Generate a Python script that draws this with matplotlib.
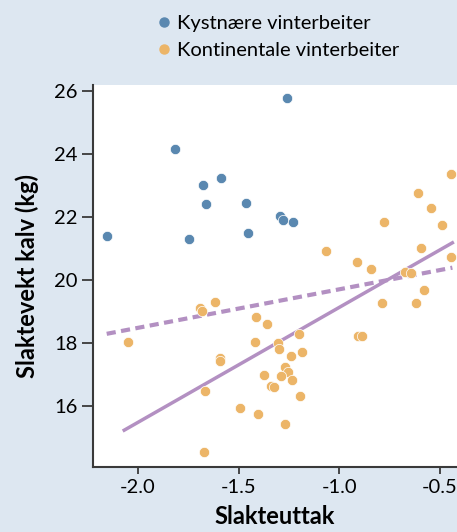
import numpy as np
import matplotlib.pyplot as plt
from matplotlib.lines import Line2D

plt.rcParams['font.family'] = ['Lato', 'DejaVu Sans']
plt.rcParams['axes.unicode_minus'] = False

# Kystnære vinterbeiter (blue)
kyst_x = [-2.153, -1.818, -1.677, -1.586, -1.662, -1.744, -1.464, -1.452,
          -1.294, -1.281, -1.231, -1.262]
kyst_y = [21.38, 24.14, 23.00, 23.24, 22.41, 21.30, 22.44, 21.48,
          22.03, 21.90, 21.82, 25.78]

# Kontinentale vinterbeiter (orange)
kont_x = [-2.048, -1.693, -1.680, -1.617, -1.416, -1.358, -1.421, -1.593,
          -1.593, -1.665, -1.495, -1.406, -1.672, -1.303, -1.300, -1.201,
          -1.186, -1.241, -1.373, -1.340, -1.323, -1.272, -1.257, -1.289,
          -1.234, -1.193, -1.272, -0.447, -0.609, -0.543, -0.490, -0.777,
          -1.064, -0.596, -0.447, -0.914, -0.842, -0.673, -0.645, -0.581,
          -0.789, -0.619, -0.909, -0.889]
kont_y = [18.01, 19.09, 19.02, 19.28, 18.81, 18.60, 18.01, 17.52,
          17.42, 16.46, 15.93, 15.73, 14.52, 17.98, 17.79, 18.27,
          17.70, 17.57, 16.97, 16.63, 16.59, 17.24, 17.08, 16.94,
          16.82, 16.29, 15.41, 23.35, 22.75, 22.27, 21.75, 21.82,
          20.92, 21.00, 20.71, 20.57, 20.34, 20.25, 20.22, 19.67,
          19.26, 19.26, 18.22, 18.22]

# regression lines (end points)
solid_x = [-2.068, -0.439]
solid_y = [15.22, 21.17]
dash_x = [-2.155, -0.439]
dash_y = [18.28, 20.38]

xticks = [-2.0, -1.5, -1.0, -0.5]
yticks = [16, 18, 20, 22, 24, 26]

bg = '#dde7f1'
blue = '#5a88b0'
orange = '#ecb568'
purple = '#b390c2'

fig = plt.figure(figsize=(4.57, 5.32), dpi=100, facecolor=bg)
ax = fig.add_axes([0.2035, 0.1227, 0.7965, 0.7175])
ax.set_facecolor('white')

ax.plot(dash_x, dash_y, color=purple, lw=3, ls=(0, (2.2, 1.3)), zorder=2)
ax.plot(solid_x, solid_y, color=purple, lw=2.5, zorder=2)
ax.scatter(kyst_x, kyst_y, s=55, color=blue, edgecolors='white', linewidths=0.5, zorder=3)
ax.scatter(kont_x, kont_y, s=55, color=orange, edgecolors='white', linewidths=0.5, zorder=3)

ax.set_xlim(-2.223, -0.416)
ax.set_ylim(14.06, 26.18)
ax.set_xticks(xticks)
ax.set_xticklabels(['%.1f' % v for v in xticks])
ax.set_yticks(yticks)

for s in ['top', 'right']:
    ax.spines[s].set_visible(False)
for s in ['left', 'bottom']:
    ax.spines[s].set_color('#3a3a3a')
    ax.spines[s].set_linewidth(1.5)

ax.tick_params(axis='y', length=8, width=1.3, color='#3a3a3a', labelsize=14.5, pad=3)
ax.tick_params(axis='x', length=5, width=1.3, color='#3a3a3a', labelsize=14.5, pad=4)

ax.set_xlabel('Slakteuttak', fontsize=17, fontweight='bold', labelpad=6)
ax.set_ylabel('Slaktevekt kalv (kg)', fontsize=17, fontweight='bold', labelpad=11)

handles = [Line2D([], [], ls='', marker='o', ms=6.5, color=blue),
           Line2D([], [], ls='', marker='o', ms=6.5, color=orange)]
fig.legend(handles, ['Kystnære vinterbeiter', 'Kontinentale vinterbeiter'],
           loc='upper left', bbox_to_anchor=(0.31, 0.995), frameon=False,
           fontsize=14.5, handletextpad=0.15, labelspacing=0.5, handlelength=1.0,
           borderaxespad=0.2)

fig.savefig('out.png', dpi=100, facecolor=bg)
